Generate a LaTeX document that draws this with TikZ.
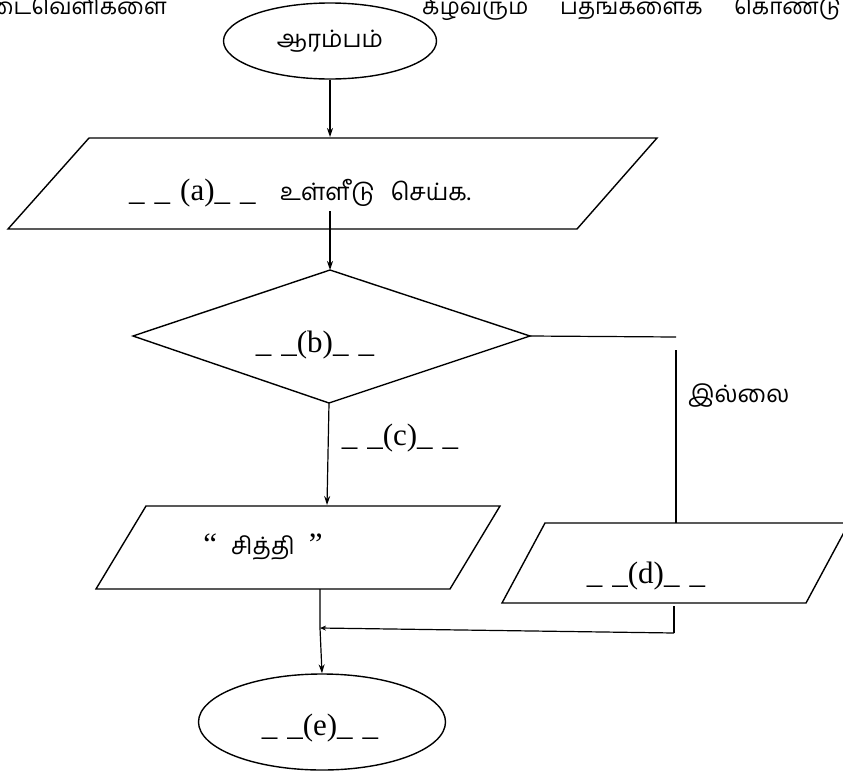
\documentclass[tikz,border=0pt]{standalone}
\usepackage{fontspec}
\setmainfont{Liberation Serif}
\newfontfamily\tam[Script=Tamil]{Hind Madurai}
\usetikzlibrary{shapes.geometric,arrows.meta}
\newcommand{\blank}[1]{\_\hspace{10pt}\_(#1)\_\hspace{10pt}\_}
\begin{document}
\begin{tikzpicture}[x=1pt,y=-1pt,
  shp/.style={line width=1.4pt, line join=miter},
  con/.style={line width=1.2pt},
  arr/.style={con,-{Stealth[length=9pt,width=6pt]}},
  lat/.style={font=\fontsize{31}{35}\selectfont, inner sep=0pt},
  tm/.style={font=\tam\fontsize{24}{28}\selectfont, inner sep=0pt},
  hd/.style={font=\tam\fontsize{22.5}{26}\selectfont, inner sep=0pt},
  term/.style={ellipse, draw, shp, inner sep=0pt},
]
\useasboundingbox (0,0) rectangle (843,771);
\clip (0,0) rectangle (843,771);

% heading (cut off at the top of the page)
\node[hd, anchor=base east] (h1) at (167,14) {இடைவெளிகளை};
\node[hd, anchor=base west] (h2) at (422,14) {கீழ்வரும்};
\node[hd, anchor=base west] (h3) at (560,14) {பதங்களைக்};
\node[hd, anchor=base west] (h4) at (734,14) {கொண்டு};

% start
\node[term, tm, minimum width=213pt, minimum height=76pt] (start) at (330,41) {ஆரம்பம்};

% input parallelogram
\coordinate (p1a) at (89,138);
\coordinate (p1b) at (657,138);
\coordinate (p1c) at (577,229);
\coordinate (p1d) at (8,229);
\draw[shp] (p1a) -- (p1b) -- (p1c) -- (p1d) -- cycle;
\coordinate (p1in) at (330,137);
\coordinate (p1out) at (330,211);
\node[lat, anchor=base west] (atext) at (129,200) {\_\hspace{10pt}\_\hspace{10pt}(a)\_\hspace{10pt}\_};
\node[tm, anchor=base west] (atam) at (280,200) {உள்ளீடு\hspace{16pt}செய்க.};

% decision diamond
\coordinate (dt) at (330,270);
\coordinate (dl) at (133,336);
\coordinate (dr) at (530,336);
\coordinate (db) at (329,403);
\draw[shp] (dt) -- (dr) -- (db) -- (dl) -- cycle;
\node[lat, anchor=base] (btext) at (315,352) {\blank{b}};

% "no" branch
\coordinate (nr) at (676,337);
\coordinate (nv) at (676,350);
\node[tm, anchor=west] (no) at (688,396) {இல்லை};

% output "sithi"
\coordinate (sa) at (146,506);
\coordinate (sb) at (500,506);
\coordinate (sc) at (450,589);
\coordinate (sd) at (96,589);
\draw[shp] (sa) -- (sb) -- (sc) -- (sd) -- cycle;
\coordinate (sin) at (327,505);
\coordinate (sout) at (320,589);
\node[lat] (stext) at (263,547) {“\hspace{14pt}{\tam\fontsize{24}{28}\selectfont சித்தி}\hspace{14pt}”};

% output (d)
\coordinate (da) at (545,523);
\coordinate (dbb) at (849,523);
\coordinate (dc) at (806,603);
\coordinate (dd) at (502,603);
\draw[shp] (da) -- (dbb) -- (dc) -- (dd) -- cycle;
\coordinate (din) at (676,523);
\coordinate (dout) at (674,606);
\coordinate (dcor) at (674,633);
\node[lat, anchor=base] (dtext) at (646,583) {\blank{d}};

% label (c)
\node[lat, anchor=base] (ctext) at (400,445) {\blank{c}};

% end
\node[term, minimum width=247pt, minimum height=96pt] (end) at (322,722) {};
\node[lat, anchor=base] (etext) at (320,735) {\blank{e}};
\coordinate (jn) at (320,628);

% connectors
\draw[arr] (start.south) -- (p1in);
\draw[arr] (p1out) -- (dt);
\draw[con] (dr) -- (nr);
\draw[con] (nv) -- (din);
\draw[arr] (db) -- (sin);
\draw[arr] (sout) -- (jn) -- (end.north);
\draw[con] (dout) -- (dcor);
\draw[con, -{Stealth[length=6pt,width=5pt]}] (dcor) -- (jn);
\end{tikzpicture}
\end{document}
